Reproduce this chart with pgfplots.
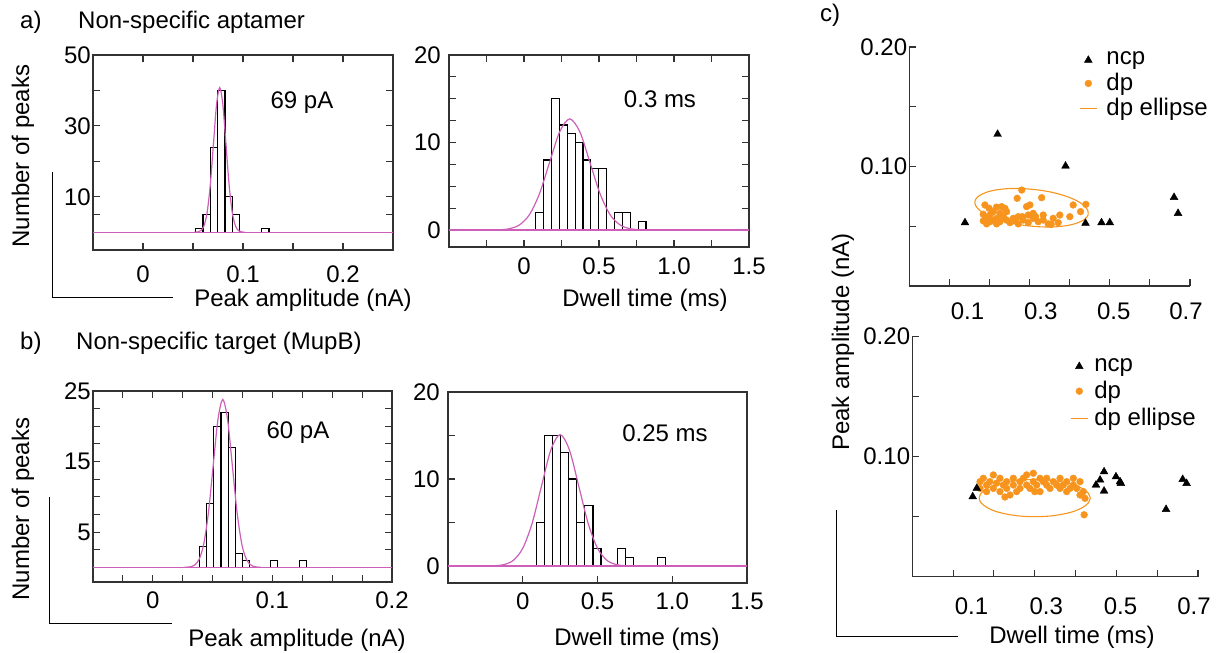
\documentclass[border=0pt]{standalone}
\usepackage{pgfplots}
\pgfplotsset{compat=1.18}
\usepackage{fontspec}
\setmainfont{Liberation Sans}
\definecolor{fitmag}{RGB}{205,95,185}
\definecolor{dporange}{RGB}{247,148,30}
\definecolor{axgray}{RGB}{50,50,50}
\pgfplotsset{
  hist/.style={anchor=south west, scale only axis,
    axis line style={axgray, line width=1.5pt},
    every tick/.style={axgray, line width=1.1pt},
    major tick length=7pt, minor tick length=7pt, tick align=inside,
    every tick label/.append style={inner sep=2pt},
    /pgf/number format/assume math mode=true},
  histbar/.style={ybar interval, draw=black, fill=white, line width=1.1pt},
  gfit/.style={fitmag, line width=1.2pt, no marks},
  scat/.style={anchor=south west, scale only axis,
    xmin=0, xmax=0.7, ymin=0, ymax=0.2,
    axis x line=bottom, axis y line=left,
    axis line style={-, axgray, line width=1.2pt},
    every tick/.style={axgray, line width=1.1pt},
    tick align=inside, major tick length=7pt,
    xtick={0.1,0.2,0.3,0.4,0.5,0.6,0.7}, xticklabels={,,,,,,},
    extra x ticks={0.145,0.328,0.51,0.69}, extra x tick labels={0.1,0.3,0.5,0.7},
    extra x tick style={major tick length=0pt},
    ytick={0.05,0.1,0.15,0.2}, yticklabels={,0.10,,0.20},
    every tick label/.append style={inner sep=2pt},
    /pgf/number format/assume math mode=true, clip=false,
    legend cell align=left},
  ncpmk/.style={only marks, mark=triangle*, black, mark size=4.5pt},
  dpmk/.style={only marks, mark=*, dporange, mark size=3.4pt},
  ellst/.style={dporange, line width=1.1pt, smooth, no marks},
}
\begin{document}
\fontsize{24}{28}\selectfont
\begin{tikzpicture}[x=1pt,y=1pt]
\path[use as bounding box] (0,0) rectangle (1218,653);

% decorative L-lines
\draw[line width=1pt] (52,481) -- (52,355) -- (173,355);
\draw[line width=1pt] (49,156) -- (49,29) -- (172,29);
\draw[line width=1pt] (836,143) -- (836,16) -- (958,16);

% texts
\begin{scope}[every node/.style={inner sep=0pt}]
\node[anchor=west] at (20,631) {a)};
\node[anchor=west] at (78,631) {Non-specific aptamer};
\node[anchor=west] at (20,310) {b)};
\node[anchor=west] at (76,310) {Non-specific target (MupB)};
\node[anchor=west] at (820,638) {c)};
\node at (302,550) {69 pA};
\node at (660,554) {0.3 ms};
\node at (298,220) {60 pA};
\node at (665,220) {0.25 ms};
\node[rotate=90] at (23,497) {Number of peaks};
\node[rotate=90] at (23,144) {Number of peaks};
\node at (303,353) {Peak amplitude (nA)};
\node at (645,353) {Dwell time (ms)};
\node at (297,13) {Peak amplitude (nA)};
\node at (637,14) {Dwell time (ms)};
\node[rotate=90] at (843,311) {Peak amplitude (nA)};
\node at (1072,16) {Dwell time (ms)};
\end{scope}

% ---------- a) peak amplitude
\begin{axis}[hist, at={(93pt,403pt)}, width=300pt, height=195pt,
  xmin=-0.05, xmax=0.25, ymin=-5, ymax=50,
  xtick={0,0.1,0.2}, xticklabels={0,0.1,0.2}, minor xtick={0.05,0.15},
  ytick={10,30,50}, yticklabels={10,30,50}, minor ytick={5,20,40},
  xticklabel shift=14pt]
\addplot[histbar] coordinates {(0.0527,1) (0.0600,5) (0.0673,24) (0.0747,40) (0.0820,10) (0.0893,5) (0.0967,5)};
\addplot[histbar] coordinates {(0.1187,1) (0.1260,1)};
\addplot[gfit] coordinates {(-0.05,0) (0.25,0)};
\addplot[gfit, smooth] coordinates {(0.0515,0.01) (0.05465,0.09) (0.0578,0.45) (0.06095,1.79) (0.0641,5.52) (0.06725,13.25) (0.0704,24.75) (0.07355,36.0) (0.0767,40.8) (0.07985,36.0) (0.083,24.75) (0.08615,13.25) (0.0893,5.52) (0.09245,1.79) (0.0956,0.45) (0.09875,0.09) (0.1019,0.01)};
\end{axis}

% ---------- a) dwell time
\begin{axis}[hist, at={(449pt,406pt)}, width=300pt, height=192pt,
  xmin=-0.5, xmax=1.5, ymin=-1.94, ymax=20,
  xtick={0,0.5,1,1.5}, xticklabels={0,0.5,1.0,1.5}, minor xtick={-0.25,0.25,0.75,1.25},
  ytick={0,10,20}, yticklabels={0,10,20}, minor ytick={2.5,5,7.5,12.5,15,17.5},
  xticklabel shift=9pt, yticklabel shift=6pt]
\addplot[histbar] coordinates {(0.078,2) (0.1305,8) (0.183,15) (0.2355,12) (0.288,11) (0.3405,10) (0.393,8) (0.4455,7) (0.498,7) (0.5505,7)};
\addplot[histbar] coordinates {(0.603,2) (0.6555,2) (0.708,2)};
\addplot[histbar] coordinates {(0.7605,1) (0.813,1)};
\addplot[gfit] coordinates {(-0.5,0) (1.5,0)};
\addplot[gfit, smooth] coordinates {(-0.235,0.004) (-0.1675,0.028) (-0.1,0.141) (-0.0325,0.558) (0.035,1.72) (0.1025,4.12) (0.17,7.70) (0.2375,11.21) (0.305,12.7) (0.3725,11.21) (0.44,7.70) (0.5075,4.12) (0.575,1.72) (0.6425,0.558) (0.71,0.141) (0.7775,0.028) (0.845,0.004)};
\end{axis}

% ---------- b) peak amplitude
\begin{axis}[hist, at={(93pt,71pt)}, width=299pt, height=191pt,
  xmin=-0.05, xmax=0.2, ymin=-2.08, ymax=25,
  xtick={0,0.1,0.2}, xticklabels={0,0.1,0.2}, minor xtick={-0.025,0.025,0.05,0.075,0.125,0.15,0.175},
  ytick={5,15,25}, yticklabels={5,15,25}, minor ytick={2.5,7.5,10,12.5,17.5,20,22.5},
  xticklabel shift=8pt]
\addplot[histbar] coordinates {(0.0392,3) (0.0451,9) (0.0511,20) (0.0570,22) (0.0630,17) (0.0689,2) (0.0748,1) (0.0808,1)};
\addplot[histbar] coordinates {(0.0986,1) (0.1045,1)};
\addplot[histbar] coordinates {(0.1224,1) (0.1283,1)};
\addplot[gfit] coordinates {(-0.05,0) (0.2,0)};
\addplot[gfit, smooth] coordinates {(0.0265,0.007) (0.0305,0.052) (0.0345,0.264) (0.0385,1.045) (0.0425,3.22) (0.0465,7.73) (0.0505,14.43) (0.0545,21.0) (0.0585,23.8) (0.0625,21.0) (0.0665,14.43) (0.0705,7.73) (0.0745,3.22) (0.0785,1.045) (0.0825,0.264) (0.0865,0.052) (0.0905,0.007)};
\end{axis}

% ---------- b) dwell time
\begin{axis}[hist, at={(448pt,70pt)}, width=299pt, height=191pt,
  xmin=-0.5, xmax=1.5, ymin=-1.95, ymax=20, tick pos=left,
  xtick={0,0.5,1,1.5}, xticklabels={0,0.5,1.0,1.5},
  ytick={0,10,20}, yticklabels={0,10,20}, minor ytick={5,15},
  xticklabel shift=8pt, yticklabel shift=6pt]
\addplot[histbar] coordinates {(0.0916,5) (0.1456,15) (0.1996,15) (0.2536,13) (0.3076,10) (0.3616,5) (0.4156,7) (0.4696,2) (0.5236,2)};
\addplot[histbar] coordinates {(0.6316,2) (0.6856,1) (0.7396,1)};
\addplot[histbar] coordinates {(0.9016,1) (0.9556,1)};
\addplot[gfit] coordinates {(-0.5,0) (1.5,0)};
\addplot[gfit, smooth] coordinates {(-0.25,0.005) (-0.1875,0.033) (-0.125,0.168) (-0.0625,0.663) (0,2.04) (0.0625,4.90) (0.125,9.16) (0.1875,13.33) (0.25,15.1) (0.3125,13.33) (0.375,9.16) (0.4375,4.90) (0.5,2.04) (0.5625,0.663) (0.625,0.168) (0.6875,0.033) (0.75,0.005)};
\end{axis}

% ---------- c) top scatter
\begin{axis}[scat, at={(909.3pt,367pt)}, width=280.7pt, height=239pt,
  xticklabel shift=15pt,
  legend style={draw=none, fill=none, at={(0.594,0.997)}, anchor=north west, row sep=0.5pt, column sep=7pt}]
\addlegendimage{ncpmk}\addlegendentry{ncp}
\addlegendimage{dpmk}\addlegendentry{dp}
\addlegendimage{dporange, line width=1.1pt}\addlegendentry{dp ellipse}
\addplot[dpmk, forget plot] coordinates {
(0.2805,0.0803) (0.269,0.0734) (0.330,0.0739) (0.3007,0.0678) (0.2924,0.0664) (0.1886,0.0678) (0.2302,0.0664) (0.2384,0.065) (0.4086,0.0678) (0.4402,0.0683) (0.3754,0.0594) (0.4003,0.058) (0.427,0.0622)
(0.1844,0.060) (0.1844,0.0545) (0.1928,0.0566) (0.1928,0.052) (0.2011,0.0594) (0.2011,0.0538) (0.2093,0.0622) (0.2093,0.055) (0.2176,0.0566) (0.2176,0.052) (0.226,0.0608) (0.226,0.0538) (0.2343,0.0580) (0.2426,0.0552) (0.2426,0.0622) (0.2509,0.0530) (0.2592,0.0566) (0.2716,0.0520) (0.2716,0.0580) (0.2841,0.0552) (0.2966,0.0594) (0.2966,0.0530) (0.309,0.0566) (0.309,0.0608) (0.3215,0.0538) (0.3339,0.0552) (0.3339,0.0594) (0.3463,0.0520) (0.3588,0.0566) (0.3713,0.0530) (0.2175,0.0660) (0.199,0.0650) (0.315,0.058) (0.282,0.058) (0.265,0.0545) (0.354,0.0515)};
\addplot[ellst, forget plot] coordinates {
(0.445,0.0635) (0.4345,0.0677) (0.4152,0.0718) (0.3884,0.0754) (0.3560,0.0784) (0.3200,0.0804) (0.283,0.0815) (0.2475,0.0815) (0.2160,0.0804) (0.1905,0.0782) (0.1728,0.0752) (0.1641,0.0716) (0.165,0.0675) (0.1755,0.0633) (0.1948,0.0592) (0.2216,0.0556) (0.2541,0.0526) (0.2900,0.0506) (0.327,0.0495) (0.3625,0.0495) (0.3941,0.0506) (0.4196,0.0528) (0.4372,0.0558) (0.4459,0.0594) (0.445,0.0635)};
\addplot[ncpmk, forget plot] coordinates {(0.1388,0.053) (0.2202,0.127) (0.3896,0.1004) (0.4394,0.0525) (0.4793,0.053) (0.50,0.053) (0.6602,0.0742) (0.6702,0.0608)};
\end{axis}

% ---------- c) bottom scatter
\begin{axis}[scat, at={(912.3pt,76.3pt)}, width=285.7pt, height=240pt,
  xticklabel shift=19pt,
  legend style={draw=none, fill=none, at={(0.5415,0.928)}, anchor=north west, row sep=2pt, column sep=4pt}]
\addlegendimage{ncpmk}\addlegendentry{ncp}
\addlegendimage{dpmk}\addlegendentry{dp}
\addlegendimage{dporange, line width=1.1pt}\addlegendentry{dp ellipse}
\addplot[dpmk, forget plot] coordinates {
(0.166,0.0792) (0.166,0.0736) (0.174,0.082) (0.182,0.0764) (0.182,0.0709) (0.19,0.0792) (0.1985,0.0848) (0.1985,0.0736) (0.2065,0.078) (0.2148,0.082) (0.2148,0.0709) (0.223,0.0764) (0.2312,0.0792) (0.2312,0.0736) (0.2393,0.0681) (0.2475,0.0764) (0.2475,0.082) (0.2556,0.0709) (0.2638,0.0792) (0.2638,0.0736) (0.272,0.082) (0.2802,0.0848) (0.2802,0.0764) (0.2883,0.0736) (0.2965,0.0862) (0.2965,0.0792) (0.3047,0.0764) (0.3129,0.082) (0.3129,0.0709) (0.321,0.0792) (0.3292,0.0764) (0.3292,0.082) (0.3373,0.0736) (0.3455,0.0792) (0.3537,0.0764) (0.3619,0.0820) (0.3619,0.0736) (0.37,0.0764) (0.3782,0.0792) (0.3782,0.0709) (0.3864,0.0736) (0.3945,0.082) (0.3945,0.0764) (0.4027,0.0736) (0.4109,0.0792) (0.4109,0.0681) (0.419,0.0709) (0.4231,0.0653) (0.421,0.0516) (0.227,0.0664) (0.3,0.0709)};
\addplot[ellst, forget plot] coordinates {
(0.436,0.0655) (0.4314,0.0695) (0.4178,0.0733) (0.3962,0.0765) (0.368,0.0789) (0.3352,0.0805) (0.30,0.081) (0.2648,0.0805) (0.232,0.0789) (0.2038,0.0765) (0.1822,0.0733) (0.1686,0.0695) (0.164,0.0655) (0.1686,0.0615) (0.1822,0.0578) (0.2038,0.0545) (0.232,0.0521) (0.2648,0.0505) (0.30,0.050) (0.3352,0.0505) (0.368,0.0521) (0.3962,0.0545) (0.4178,0.0578) (0.4314,0.0615) (0.436,0.0655)};
\addplot[ncpmk, forget plot] coordinates {(0.148,0.0667) (0.158,0.0737) (0.450,0.0764) (0.46,0.0806) (0.4698,0.0875) (0.4698,0.0714) (0.499,0.0833) (0.509,0.0792) (0.511,0.0778) (0.6217,0.0561) (0.6625,0.0811) (0.672,0.0778)};
\end{axis}
\end{tikzpicture}
\end{document}
